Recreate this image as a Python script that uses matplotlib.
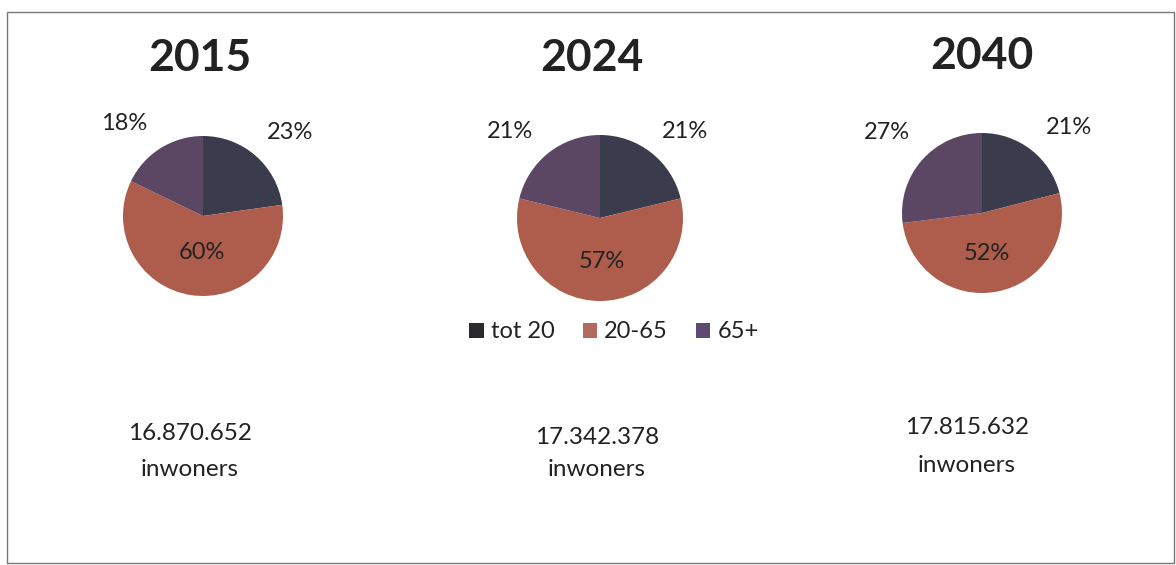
import matplotlib
matplotlib.use("Agg")
import matplotlib.pyplot as plt
from matplotlib.patches import Patch, Rectangle

# --- data ---
YEARS = ["2015", "2024", "2040"]
GROUPS = ["tot 20", "20-65", "65+"]
SHARE_TOT_20 = [23, 21, 21]
SHARE_20_65 = [60, 57, 52]
SHARE_65_PLUS = [18, 21, 27]
POPULATION = ["16.870.652", "17.342.378", "17.815.632"]

# --- layout (pixels of a 1176x565 canvas) ---
W, H = 1176, 565
PIE_CENTERS = [(203, 216), (600, 218), (982, 213)]
PIE_RADII = [80, 83, 80]
TITLE_POS = [(200, 58), (592, 58), (982, 56)]
# label offsets in pie-radius units: (tot 20, 20-65, 65+)
LABEL_OFFSETS = [
    [(1.09, 1.04), (-0.01, -0.46), (-0.98, 1.16)],
    [(1.02, 1.04), (0.02, -0.53), (-1.08, 1.04)],
    [(1.09, 1.07), (0.06, -0.50), (-1.19, 1.01)],
]
POP_POS = [(190, 433, 470), (597, 437, 470), (967, 428, 465)]

SLICE_COLORS = ["#3a3b4d", "#ae5c4b", "#5b4664"]
LEGEND_COLORS = ["#2b2b2e", "#b36a5c", "#5e4a72"]
INK = "#222222"

plt.rcParams["font.family"] = ["Lato", "DejaVu Sans"]

fig = plt.figure(figsize=(W / 100, H / 100), dpi=100)
fig.patch.set_facecolor("white")

# outer frame of the scanned chart
fig.add_artist(Rectangle((7 / W, 1 - 563 / H), (1174 - 7) / W, (563 - 12) / H,
                         transform=fig.transFigure, fill=False,
                         edgecolor="#777777", linewidth=1.0))

for i, year in enumerate(YEARS):
    cx, cy = PIE_CENTERS[i]
    r = PIE_RADII[i]
    ax = fig.add_axes([(cx - r) / W, 1 - (cy + r) / H, 2 * r / W, 2 * r / H])
    values = [SHARE_TOT_20[i], SHARE_20_65[i], SHARE_65_PLUS[i]]
    ax.pie(values, colors=SLICE_COLORS, startangle=90, counterclock=False,
           radius=1, wedgeprops=dict(linewidth=0))
    ax.set_xlim(-1, 1)
    ax.set_ylim(-1, 1)
    ax.set_aspect("equal")
    ax.axis("off")
    for v, (dx, dy) in zip(values, LABEL_OFFSETS[i]):
        ax.text(dx, dy, f"{v}%", ha="center", va="center", fontsize=17, color=INK)

    tx, ty = TITLE_POS[i]
    fig.text(tx / W, 1 - ty / H, year, ha="center", va="center",
             fontsize=32, fontweight="bold", color=INK)

    px, py_num, py_word = POP_POS[i]
    fig.text(px / W, 1 - py_num / H, POPULATION[i], ha="center", va="center",
             fontsize=17.5, color=INK)
    fig.text(px / W, 1 - py_word / H, "inwoners", ha="center", va="center",
             fontsize=17.5, color=INK)

handles = [Patch(facecolor=c, edgecolor="none") for c in LEGEND_COLORS]
fig.legend(handles, GROUPS, loc="center", bbox_to_anchor=(614 / W, 1 - 332 / H),
           ncol=3, frameon=False, fontsize=17, handlelength=0.6, handleheight=0.6,
           handletextpad=0.3, columnspacing=1.2, labelcolor=INK)

fig.savefig("out.png", dpi=100, facecolor="white")
